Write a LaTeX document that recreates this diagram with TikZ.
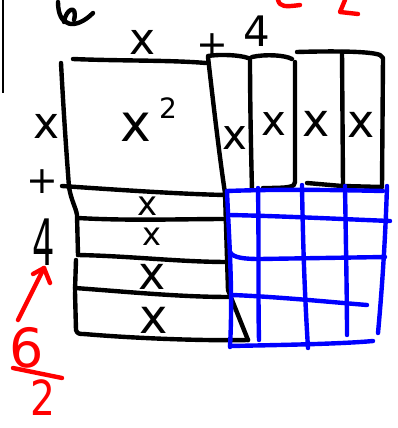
\documentclass[tikz,border=0pt]{standalone}
\usepackage{fontspec}
\setmainfont{DejaVu Sans}
\begin{document}
\begin{tikzpicture}[x=1pt,y=-1pt,
  ink/.style={line width=4.4pt,line cap=round,line join=round},
  blk/.style={ink,black},
  blu/.style={ink,blue},
  rd/.style={ink,red},
  lbl/.style={inner sep=0pt,font=\fontsize{#1}{#1}\selectfont},
  lbl/.default=40]
\useasboundingbox (0,0) rectangle (397,428);
% thin frame edge on the left
\draw[line width=2.4pt] (3,0) -- (3,93);
% scribble at the top
\draw[blk] (58,2) .. controls (58,28) and (76,30) .. (93,13);
\draw[blk] (64,22) .. controls (66,8) and (78,4) .. (74,20);
% red partial marks at the top
\draw[rd] (278,0) .. controls (280,7) and (285,7) .. (300,5);
\draw[rd] (345,0) -- (340,12) -- (358,14);
% top labels
\node[lbl=44] (tx) at (143,42) {x};
\node[lbl=38] (tplus) at (212,46) {+};
\node[lbl=42] (tfour) at (257,31) {4};
% left labels
\node[lbl=44] (lx) at (47,126) {x};
\node[lbl=38] (lplus) at (42,182) {+};
\node[lbl=64] (lfour) at (44,242) {\scalebox{0.55}[1]{4}};
% big square
\draw[blk] (73,59) .. controls (120,61) and (170,60) .. (206,63);
\draw[blk] (61,63) .. controls (64,120) and (67,160) .. (69,187) .. controls (71,200) and (76,208) .. (77,215) -- (78,255);
\node[lbl=52] (xsq) at (136,127) {x};
\node[lbl=28] (two) at (168,108) {2};
% right edge of square / strips
\draw[blk] (208,57) .. controls (214,110) and (220,160) .. (225,193) -- (228,290) -- (248,340);
% horizontal strips
\draw[blk] (62,186) .. controls (120,190) and (180,194) .. (225,195);
\draw[blk] (78,218) .. controls (130,221) and (180,219) .. (227,219);
\draw[blk] (78,255) .. controls (130,256) and (180,262) .. (228,262);
\draw[blk] (76,260) -- (75,290);
\draw[blk] (75,288) .. controls (130,292) and (180,297) .. (230,297);
\draw[blk] (75,292) -- (76,330) .. controls (77,334) and (80,334) .. (84,334);
\draw[blk] (84,334) .. controls (130,338) and (200,341) .. (248,340);
\node[lbl=34] (r1) at (148,206) {x};
\node[lbl=32] (r2) at (152,237) {x};
\node[lbl=46] (r3) at (152,277) {x};
\node[lbl=48] (r4) at (154,320) {x};
% vertical strips
\draw[blk] (208,56) .. controls (220,54) and (240,55) .. (248,58);
\draw[blk] (250,58) .. controls (250,100) and (251,150) .. (252,190);
\draw[blk] (252,57) .. controls (265,54) and (285,55) .. (292,59);
\draw[blk] (295,62) -- (295,182) .. controls (295,187) and (290,188) .. (263,188);
\draw[blk] (297,52) .. controls (330,51) and (370,51) .. (380,55) -- (383,58) -- (382,186);
\draw[blk] (342,52) -- (343,185);
\draw[blk] (307,183) -- (342,186);
\draw[blk] (343,186) -- (382,187);
\node[lbl=42] (v1) at (235,138) {x};
\node[lbl=42] (v2) at (274,124) {x};
\node[lbl=46] (v3) at (316,124) {x};
\node[lbl=46] (v4) at (361,125) {x};
% blue grid
\draw[blu] (227,191) .. controls (280,189) and (340,190) .. (383,191);
\draw[blu] (229,215) .. controls (280,216) and (340,219) .. (390,221);
\draw[blu] (230,252) .. controls (233,258) and (245,259) .. (260,259) -- (385,257);
\draw[blu] (233,295) .. controls (280,297) and (330,302) .. (367,305);
\draw[blu] (230,346) .. controls (280,345) and (340,344) .. (373,341);
\draw[blu] (227,191) .. controls (229,240) and (233,290) .. (230,347);
\draw[blu] (258,188) .. controls (259,250) and (258,300) .. (259,340);
\draw[blu] (302,185) .. controls (303,250) and (305,300) .. (308,348);
\draw[blu] (345,186) .. controls (346,250) and (347,300) .. (347,335);
\draw[blu] (387,186) .. controls (385,250) and (381,300) .. (378,333);
% red annotation
\node[lbl=54,text=red] (six) at (27,348) {6};
\node[lbl=46,text=red] (den) at (43,398) {\scalebox{0.85}[1.05]{2}};
\coordinate (atip) at (44,268);
\coordinate (atail) at (18,320);
\draw[rd] (atail) -- (atip);
\draw[rd] (33,274) -- (atip) -- (50,283);
\draw[rd] (13,368) -- (62,378);
\end{tikzpicture}
\end{document}
